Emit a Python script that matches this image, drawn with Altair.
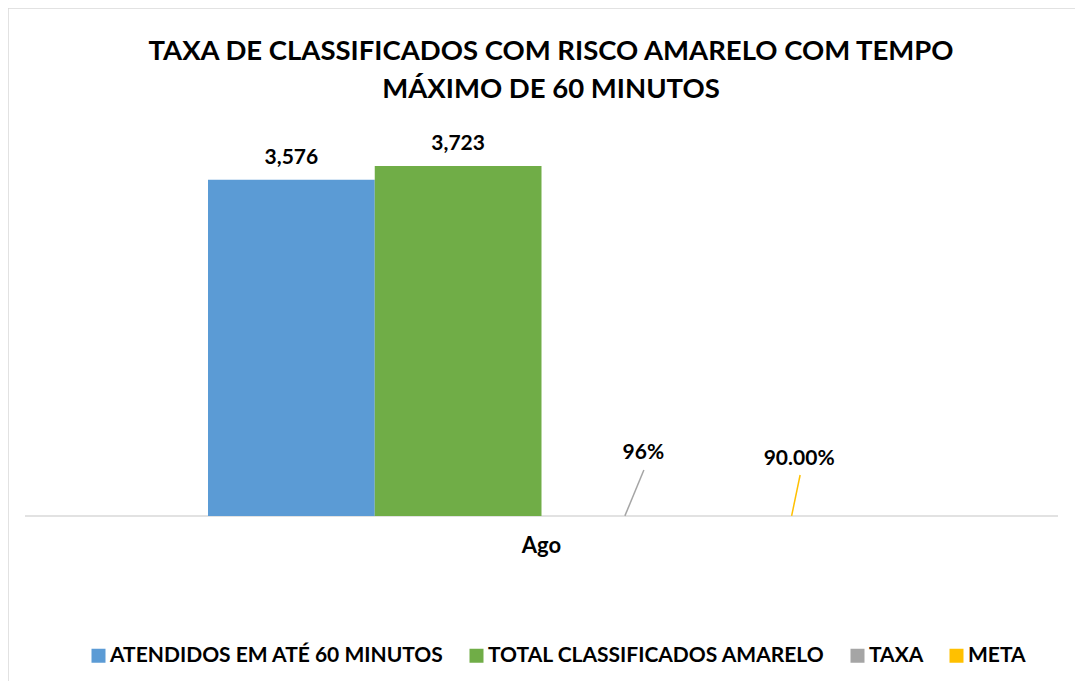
import altair as alt
import pandas as pd

# ---- data ----
series = ["ATENDIDOS EM ATÉ 60 MINUTOS", "TOTAL CLASSIFICADOS AMARELO", "TAXA", "META"]
values = [3576, 3723, 0.96, 0.90]
labels = ["3,576", "3,723", "96%", "90.00%"]
colors = ["#5B9BD5", "#70AD47", "#A5A5A5", "#FFC000"]
category = "Ago"
title_lines = ["TAXA DE CLASSIFICADOS COM RISCO AMARELO COM TEMPO", "MÁXIMO DE 60 MINUTOS"]

df = pd.DataFrame({"serie": series, "valor": values, "rotulo": labels, "cat": category})

FONT = "Lato"
W, H = 1033, 376
PAD = 183

xscale = alt.Scale(domain=series, paddingInner=0, paddingOuter=0, range=[PAD, W - PAD])
yscale = alt.Scale(domain=[0, 4000], nice=False, zero=True)
color = alt.Color("serie:N", scale=alt.Scale(domain=series, range=colors),
                  sort=series,
                  legend=alt.Legend(orient="none", legendX=63, legendY=505, direction="horizontal",
                                    title=None, symbolType="square", symbolSize=196,
                                    symbolStrokeWidth=0, labelFont=FONT, labelFontSize=21,
                                    labelFontWeight="bold", labelColor="#000000",
                                    labelOffset=1, columnPadding=22, padding=0,
                                    labelLimit=700))

base = alt.Chart(df)

# chart-area frame (top/left edges visible)
frame = alt.Chart(pd.DataFrame({"a": [0]})).mark_rect(
    fill=None, stroke="#D9D9D9", strokeWidth=1.5
).encode(x=alt.value(-17), x2=alt.value(W + 80), y=alt.value(-132), y2=alt.value(H + 220))

# horizontal category axis line across whole plot
axis_line = alt.Chart(pd.DataFrame({"v": [0]})).mark_rule(
    color="#D9D9D9", strokeWidth=1.5
).encode(x=alt.value(0), x2=alt.value(W), y=alt.Y("v:Q", scale=yscale, axis=None))

bars = base.mark_bar().encode(
    x=alt.X("serie:N", scale=xscale, sort=series, axis=None),
    y=alt.Y("valor:Q", scale=yscale, axis=None),
    color=color,
)

big = base.transform_filter(alt.datum.valor > 100).mark_text(
    font=FONT, fontSize=21, fontWeight="bold", baseline="alphabetic", dy=-16, color="#000000"
).encode(x=alt.X("serie:N", scale=xscale, sort=series), y=alt.Y("valor:Q", scale=yscale),
         text="rotulo:N")

def small(name, dx, dy, line_dx, line_top):
    sub = base.transform_filter(alt.datum.serie == name)
    txt = sub.mark_text(font=FONT, fontSize=21, fontWeight="bold", baseline="alphabetic",
                        dx=dx, dy=dy, color="#000000").encode(
        x=alt.X("serie:N", scale=xscale, sort=series), y=alt.Y("valor:Q", scale=yscale),
        text="rotulo:N")
    rule = sub.mark_rule(strokeWidth=1.5, x2Offset=line_dx).encode(
        x=alt.X("serie:N", scale=xscale, sort=series),
        x2=alt.X2("serie:N"),
        y=alt.Y("valor:Q", scale=yscale),
        y2=alt.value(line_top),
        color=alt.Color("serie:N", scale=alt.Scale(domain=series, range=colors), legend=None),
    )
    return rule + txt

taxa = small("TAXA", 18.5, -57, 19, 330)
meta = small("META", 7.5, -51, 8.5, 335)

# category label
cat_text = alt.Chart(pd.DataFrame({"t": [category]})).mark_text(
    font=FONT, fontSize=22, fontWeight="bold", baseline="alphabetic", color="#000000"
).encode(x=alt.value(W / 2), y=alt.value(H + 37), text="t:N")

# chart title (two lines)
title1 = alt.Chart(pd.DataFrame({"t": [title_lines[0]]})).mark_text(
    font=FONT, fontSize=27.5, fontWeight="bold", baseline="alphabetic", color="#000000"
).encode(x=alt.value(W / 2 + 9.5), y=alt.value(-80), text="t:N")
title2 = alt.Chart(pd.DataFrame({"t": [title_lines[1]]})).mark_text(
    font=FONT, fontSize=27.5, fontWeight="bold", baseline="alphabetic", color="#000000"
).encode(x=alt.value(W / 2 + 9.5), y=alt.value(-42), text="t:N")

chart = alt.layer(frame, axis_line, bars, big, taxa, meta, cat_text, title1, title2).properties(
    width=W, height=H,
    autosize=alt.AutoSizeParams(type="none"),
    padding={"left": 17, "top": 132, "right": 17, "bottom": 165},
).configure_view(stroke=None)

chart.save("out.html", embed_options={"renderer": "svg", "actions": False})
